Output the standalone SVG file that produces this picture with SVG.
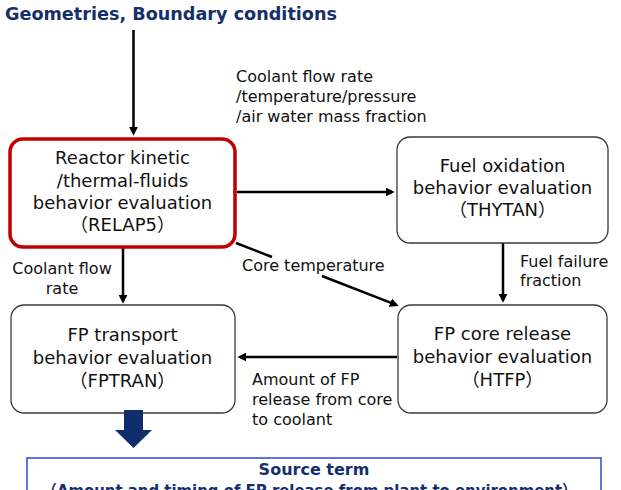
<svg xmlns="http://www.w3.org/2000/svg" width="621" height="490" viewBox="0 0 621 490">
<style>
.box{fill:#fff;stroke:#3a3a3a;stroke-width:1.3}
.red{fill:#fff;stroke:#c00000;stroke-width:3.5}
.bt{font-family:"DejaVu Sans","Noto Sans CJK JP",sans-serif;font-size:18px;fill:#111;text-anchor:middle}
.lb{font-family:"DejaVu Sans","Noto Sans CJK JP",sans-serif;font-size:16px;fill:#111}
.ttl{font-family:"DejaVu Sans","Noto Sans CJK JP",sans-serif;font-weight:bold;fill:#152f6b}
.con{fill:none;stroke:#000;stroke-width:2.5;marker-end:url(#ah)}
</style>
<defs>
<marker id="ah" viewBox="0 0 10 10" refX="7" refY="5" markerWidth="9" markerHeight="9" markerUnits="userSpaceOnUse" orient="auto">
<path d="M0,0 L10,5 L0,10 z" fill="#000"/>
</marker>
</defs>
<rect width="621" height="490" fill="#fff"/>

<g id="title">
<text class="ttl" x="5" y="20" font-size="18" textLength="332" lengthAdjust="spacingAndGlyphs">Geometries, Boundary conditions</text>
</g>

<g id="connectors">
<path class="con" d="M133.5,30 L133.5,133"/>
<path class="con" d="M237,192 L392,192"/>
<path class="con" d="M123,248 L123,301"/>
<path class="con" d="M236,243 L272,257 M322,276 L396.2,304.9"/>
<path class="con" d="M503,243 L503,300"/>
<path class="con" d="M397,357 L240,357"/>
</g>

<g id="labels">
<text class="lb" x="236" y="82">Coolant flow rate</text>
<text class="lb" x="236" y="102">/temperature/pressure</text>
<text class="lb" x="236" y="122">/air water mass fraction</text>
<text class="lb" x="62" y="274" text-anchor="middle">Coolant flow</text>
<text class="lb" x="62" y="294" text-anchor="middle">rate</text>
<text class="lb" x="242" y="271">Core temperature</text>
<text class="lb" x="520" y="267">Fuel failure</text>
<text class="lb" x="520" y="286">fraction</text>
<text class="lb" x="252" y="385">Amount of FP</text>
<text class="lb" x="252" y="405">release from core</text>
<text class="lb" x="252" y="425">to coolant</text>
</g>

<g id="relap5">
<rect class="red" x="10" y="139" width="225" height="108" rx="13"/>
<text class="bt" x="122.5" y="164">Reactor kinetic</text>
<text class="bt" x="122.5" y="187">/thermal-fluids</text>
<text class="bt" x="122.5" y="209">behavior evaluation</text>
<text class="bt" x="122.5" y="231">（RELAP5）</text>
</g>

<g id="thytan">
<rect class="box" x="397" y="137" width="211" height="106" rx="13"/>
<text class="bt" x="502.5" y="172">Fuel oxidation</text>
<text class="bt" x="502.5" y="194">behavior evaluation</text>
<text class="bt" x="502.5" y="216">（THYTAN）</text>
</g>

<g id="fptran">
<rect class="box" x="11" y="305" width="224" height="108" rx="13"/>
<text class="bt" x="122.5" y="341">FP transport</text>
<text class="bt" x="122.5" y="364">behavior evaluation</text>
<text class="bt" x="122.5" y="387">（FPTRAN）</text>
</g>

<g id="htfp">
<rect class="box" x="398" y="305" width="209" height="108" rx="13"/>
<text class="bt" x="502.5" y="340">FP core release</text>
<text class="bt" x="502.5" y="363">behavior evaluation</text>
<text class="bt" x="502.5" y="386">（HTFP）</text>
</g>

<g id="block-arrow">
<polygon points="124,410 143,410 143,430 152,430 133.5,448 115,430 124,430" fill="#0f2d6b"/>
</g>

<g id="source-term">
<rect x="27" y="458" width="574" height="45" fill="#fff" stroke="#3c4fe0" stroke-width="1.6"/>
<text class="ttl" x="314" y="475" font-size="16" text-anchor="middle">Source term</text>
<text class="ttl" x="42" y="496" font-size="16" textLength="535" lengthAdjust="spacingAndGlyphs">（Amount and timing of FP release from plant to environment）</text>
</g>
</svg>
